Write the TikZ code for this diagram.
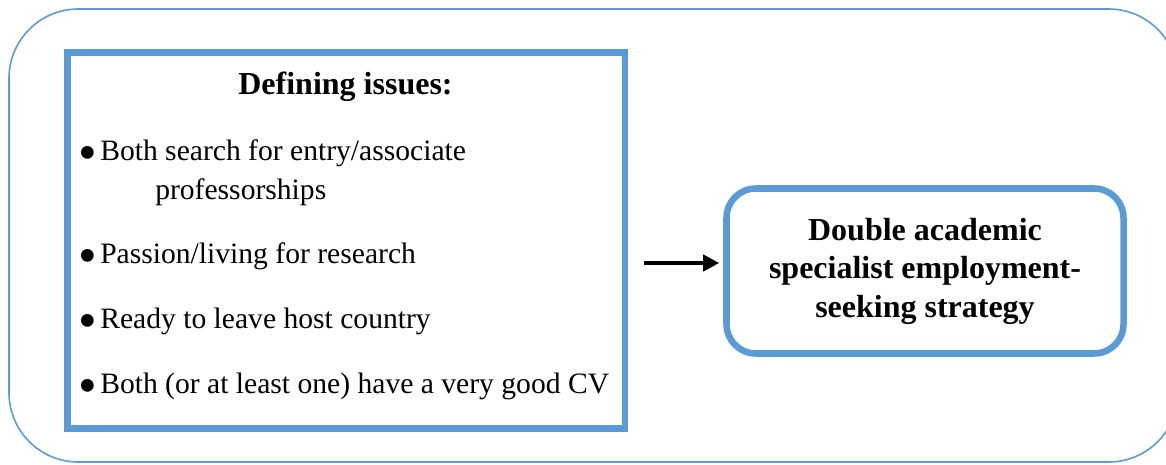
\documentclass[tikz,border=0pt]{standalone}
\usepackage{fontspec}
\setmainfont{Liberation Serif}
\usetikzlibrary{arrows.meta}
\definecolor{frameblue}{HTML}{5B9BD5}
\newcommand{\itembullet}{\makebox[15pt][l]{\hspace*{-1.5pt}\raisebox{-0.37em}{\scalebox{1.8}{\textbullet}}}}
\begin{document}
\begin{tikzpicture}[x=0.75pt,y=-0.75pt,
  outerframe/.style={draw=frameblue, line width=1.2pt, rounded corners=52pt},
  issuebox/.style={draw=frameblue, line width=4.9pt, minimum width=418.1pt, minimum height=282pt, inner sep=0pt},
  stratbox/.style={draw=frameblue, line width=4.9pt, rounded corners=22pt, minimum width=297.75pt, minimum height=123.75pt, inner sep=0pt, align=center, font=\fontsize{24}{28.9}\selectfont\bfseries},
  head/.style={anchor=base, inner sep=0pt, font=\fontsize{24}{29}\selectfont\bfseries},
  body/.style={anchor=base west, inner sep=0pt, font=\fontsize{22.2}{26}\selectfont},
  flow/.style={line width=3.4pt, -{Triangle[length=12pt,width=12pt]}}]
\useasboundingbox (0,0) rectangle (1166,464);
\draw[outerframe] (9,9) rectangle (1178,462);
\node[issuebox] (issues) at (346.25,240.5) {};
\node[head] (heading) at (345.5,94) {Defining issues:};
\node[body] (item1) at (80,160) {\itembullet Both search for entry/associate};
\node[body] (item1b) at (155,199) {professorships};
\node[body] (item2) at (80,263) {\itembullet Passion/living for research};
\node[body] (item3) at (80,328) {\itembullet Ready to leave host country};
\node[body] (item4) at (80,393) {\itembullet Both (or at least one) have a very good CV};
\node[stratbox] (strategy) at (925,271) {Double academic\\specialist employment-\\seeking strategy};
\coordinate (arrowstart) at (644,263);
\draw[flow, shorten >=3pt] (arrowstart) -- (arrowstart -| strategy.west);
\end{tikzpicture}
\end{document}
